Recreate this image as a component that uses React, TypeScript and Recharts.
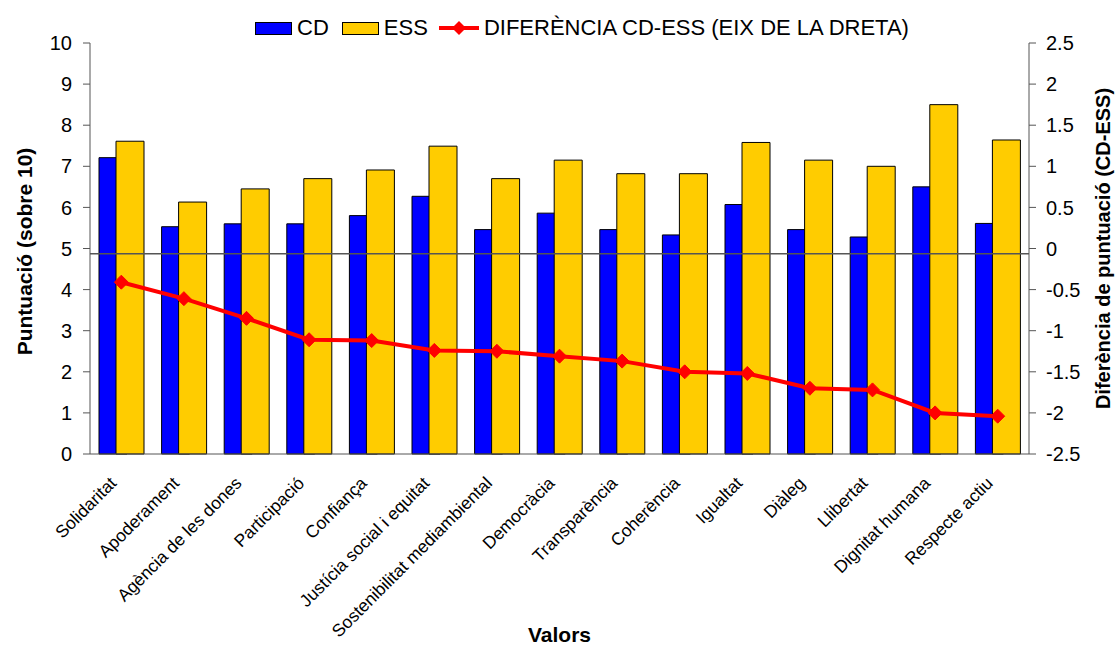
import React from 'react';
import {
  ComposedChart,
  Bar,
  Line,
  XAxis,
  YAxis,
  Legend,
  ReferenceLine } from
'recharts';

const categories = [
'Solidaritat',
'Apoderament',
'Agència de les dones',
'Participació',
'Confiança',
'Justícia social i equitat',
'Sostenibilitat mediambiental',
'Democràcia',
'Transparència',
'Coherència',
'Igualtat',
'Diàleg',
'Llibertat',
'Dignitat humana',
'Respecte actiu'];

const cdValues = [7.21, 5.53, 5.6, 5.6, 5.8, 6.27, 5.46, 5.86, 5.46, 5.33, 6.07, 5.46, 5.28, 6.5, 5.61];
const essValues = [7.61, 6.13, 6.45, 6.7, 6.91, 7.49, 6.7, 7.15, 6.82, 6.82, 7.58, 7.15, 7.0, 8.5, 7.64];
const diffValues = [-0.41, -0.61, -0.85, -1.11, -1.12, -1.24, -1.25, -1.31, -1.37, -1.5, -1.52, -1.7, -1.72, -2.0, -2.04];

const leftTicks = [0, 1, 2, 3, 4, 5, 6, 7, 8, 9, 10];
const rightTicks = [-2.5, -2, -1.5, -1, -0.5, 0, 0.5, 1, 1.5, 2, 2.5];
const baselineValue = 4.87;

const data = categories.map((name, i) => ({
  name,
  cd: cdValues[i],
  ess: essValues[i],
  diff: diffValues[i]
}));
const edgeTicks = categories.map((_, i) => i).concat(categories.length);

const FONT = "'Liberation Sans', Arial, sans-serif";
const AXIS = '#555555';
const BLUE = '#0000ff';
const YELLOW = '#ffcc00';
const RED = '#ff0000';

const Diamond = (props: any) => {
  const { cx, cy } = props;
  if (cx == null || cy == null) return null;
  const r = 7;
  return (
    <polygon
      points={`${cx},${cy - r} ${cx + r},${cy} ${cx},${cy + r} ${cx - r},${cy}`}
      fill={RED}
      stroke={RED} />);

};

const CategoryTick = (props: any) => {
  const { x, y, payload } = props;
  const ax = x - 8;
  const ay = y + 17;
  return (
    <text
      x={ax}
      y={ay}
      transform={`rotate(-45, ${ax}, ${ay})`}
      textAnchor="end"
      dominantBaseline="central"
      fontSize={17.5}
      fontFamily={FONT}
      fill="#000">
      {payload.value}
    </text>);

};

const renderLegend = () =>
<div
  style={{
    height: 30,
    display: 'flex',
    justifyContent: 'center',
    alignItems: 'center',
    paddingLeft: 49,
    fontFamily: FONT,
    fontSize: 22,
    color: '#000'
  }}>
    <span style={{ width: 37, height: 13, background: BLUE, border: '1px solid #000', boxSizing: 'border-box' }} />
    <span style={{ marginLeft: 5 }}>CD</span>
    <span style={{ width: 37, height: 13, background: YELLOW, border: '1px solid #000', boxSizing: 'border-box', marginLeft: 13 }} />
    <span style={{ marginLeft: 5 }}>ESS</span>
    <svg width={40} height={16} style={{ marginLeft: 11 }}>
      <line x1={0} y1={8} x2={40} y2={8} stroke={RED} strokeWidth={4} />
      <polygon points="20,1 27,8 20,15 13,8" fill={RED} />
    </svg>
    <span style={{ marginLeft: 5 }}>DIFERÈNCIA CD-ESS (EIX DE LA DRETA)</span>
  </div>;


export default function App() {
  return (
    <div style={{ position: 'absolute', left: 0, top: 0, width: 1115, height: 646, background: '#fff' }}>
      <ComposedChart
        width={1115}
        height={646}
        data={data}
        barGap={-11}
        margin={{ top: 13, right: 0, bottom: 0, left: 0 }}>

        <Legend verticalAlign="top" content={renderLegend} />

        <XAxis
          xAxisId={0}
          type="number"
          domain={[0, categories.length]}
          ticks={edgeTicks}
          interval={0}
          allowDataOverflow
          tick={false}
          tickSize={6}
          tickLine={{ stroke: AXIS }}
          axisLine={{ stroke: AXIS }}
          height={1} />

        <XAxis
          xAxisId="cats"
          dataKey="name"
          interval={0}
          axisLine={false}
          tickLine={false}
          tick={<CategoryTick />}
          height={191}
          label={(p: any) => {
            const vb = p.viewBox;
            return (
              <text
                x={vb.x + vb.width / 2}
                y={vb.y + 179}
                textAnchor="middle"
                dominantBaseline="central"
                fontSize={21}
                fontWeight="bold"
                fontFamily={FONT}
                fill="#000">
                Valors
              </text>);

          }} />

        <YAxis
          yAxisId="left"
          domain={[0, 10]}
          ticks={leftTicks}
          interval={0}
          width={90}
          tickSize={7}
          tickMargin={11}
          tick={{ fontSize: 20, fill: '#000', fontFamily: FONT }}
          tickLine={{ stroke: AXIS }}
          axisLine={{ stroke: AXIS }}
          label={(p: any) => {
            const vb = p.viewBox;
            const x = vb.x + 24;
            const y = vb.y + vb.height / 2 + 3;
            return (
              <text
                x={x}
                y={y}
                transform={`rotate(-90, ${x}, ${y})`}
                textAnchor="middle"
                dominantBaseline="central"
                fontSize={21}
                fontWeight="bold"
                fontFamily={FONT}
                fill="#000">
                Puntuació (sobre 10)
              </text>);

          }} />

        <YAxis
          yAxisId="right"
          orientation="right"
          domain={[-2.5, 2.5]}
          ticks={rightTicks}
          interval={0}
          width={86}
          tickSize={7}
          tickMargin={10}
          tick={{ fontSize: 20, fill: '#000', fontFamily: FONT }}
          tickLine={{ stroke: AXIS }}
          axisLine={{ stroke: AXIS }}
          label={(p: any) => {
            const vb = p.viewBox;
            const x = vb.x + 74;
            const y = vb.y + vb.height / 2;
            return (
              <text
                x={x}
                y={y}
                transform={`rotate(-90, ${x}, ${y})`}
                textAnchor="middle"
                dominantBaseline="central"
                fontSize={20}
                fontWeight="bold"
                fontFamily={FONT}
                fill="#000">
                Diferència de puntuació (CD-ESS)
              </text>);

          }} />

        <Bar
          xAxisId="cats"
          yAxisId="left"
          dataKey="cd"
          name="CD"
          fill={BLUE}
          stroke="#000"
          strokeWidth={1}
          barSize={28}
          isAnimationActive={false} />

        <Bar
          xAxisId="cats"
          yAxisId="left"
          dataKey="ess"
          name="ESS"
          fill={YELLOW}
          stroke="#000"
          strokeWidth={1}
          barSize={28}
          isAnimationActive={false} />

        <ReferenceLine
          xAxisId="cats"
          yAxisId="left"
          y={baselineValue}
          stroke={AXIS}
          strokeWidth={1.5} />

        <Line
          xAxisId="cats"
          yAxisId="right"
          dataKey="diff"
          name="DIFERÈNCIA CD-ESS (EIX DE LA DRETA)"
          stroke={RED}
          strokeWidth={4}
          dot={<Diamond />}
          activeDot={false}
          isAnimationActive={false} />

      </ComposedChart>
    </div>);

}
